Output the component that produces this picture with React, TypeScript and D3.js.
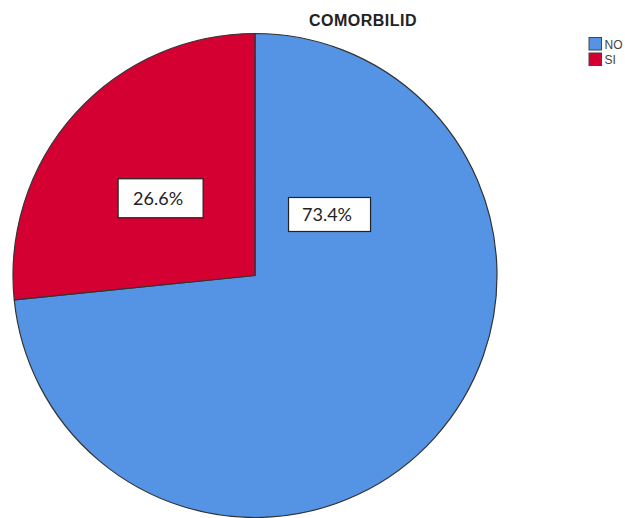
import React from "react";
import * as d3 from "d3";

const categories = ["NO", "SI"];
const percents = [73.4, 26.6];
const labels = ["73.4%", "26.6%"];
const colors = ["#5594E4", "#D50032"];
const title = "COMORBILID";

const W = 625;
const H = 518;
const cx = 255;
const cy = 275.5;
const R = 242;

// label layout (polar, clockwise from top) per category
const labelAngleDeg = [50.7, -50.7];
const labelDistFrac = [0.398, 0.504];
const labelBox = [
  { w: 82, h: 34 },
  { w: 85, h: 39 },
];

export default function App() {
  // SPSS draws first category clockwise from 12 o'clock; second fills rest
  const pie = d3
    .pie<number>()
    .sort(null)
    .value((d) => d)
    .startAngle(0)
    .endAngle(2 * Math.PI);
  const arcs = pie(percents);
  // shift so that second slice ends at 12 o'clock going counterclockwise: i.e. first slice starts at 0
  const arcGen = d3.arc<d3.PieArcDatum<number>>().innerRadius(0).outerRadius(R);

  const legendX = 589;
  const legendY = 37.5;
  const legendStep = 15.5;

  return (
    <svg
      width={W}
      height={H}
      style={{ position: "absolute", left: 0, top: 0, background: "#fff" }}
    >
      <text
        x={363}
        y={26.3}
        textAnchor="middle"
        fontFamily="'Liberation Sans', Arial, sans-serif"
        fontWeight="bold"
        fontSize={16}
        letterSpacing={0.5}
        fill="#222"
      >
        {title}
      </text>
      <g transform={`translate(${cx},${cy})`}>
        {arcs.map((a, i) => (
          <path
            key={categories[i]}
            d={arcGen(a) || ""}
            fill={colors[i]}
            stroke="#333"
            strokeWidth={1.2}
            strokeLinejoin="round"
          />
        ))}
        {arcs.map((a, i) => {
          const ang = (labelAngleDeg[i] * Math.PI) / 180;
          const d = labelDistFrac[i] * R;
          const lx = Math.sin(ang) * d;
          const ly = -Math.cos(ang) * d;
          const b = labelBox[i];
          return (
            <g key={"l" + i} transform={`translate(${lx},${ly})`}>
              <rect
                x={-b.w / 2}
                y={-b.h / 2}
                width={b.w}
                height={b.h}
                fill="#fff"
                stroke="#222"
                strokeWidth={1.2}
              />
              <text
                x={-2.5}
                y={6.5}
                textAnchor="middle"
                fontFamily="Lato, 'Open Sans', sans-serif"
                fontSize={18}
                fill="#222"
              >
                {labels[i]}
              </text>
            </g>
          );
        })}
      </g>
      {categories.map((c, i) => (
        <g key={"lg" + c} transform={`translate(${legendX},${legendY + i * legendStep})`}>
          <rect
            x={0}
            y={0}
            width={12.5}
            height={12.5}
            fill={colors[i]}
            stroke="#444"
            strokeWidth={1}
          />
          <text
            x={15.5}
            y={11}
            fontFamily="'Liberation Sans', Arial, sans-serif"
            fontSize={12}
            fill="#444"
          >
            {c}
          </text>
        </g>
      ))}
    </svg>
  );
}
